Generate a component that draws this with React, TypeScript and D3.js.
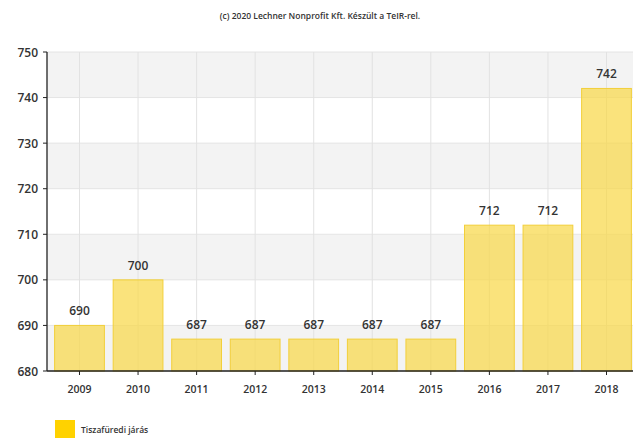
import * as d3 from 'd3'

const years = ['2009', '2010', '2011', '2012', '2013', '2014', '2015', '2016', '2017', '2018']
const values = [690, 700, 687, 687, 687, 687, 687, 712, 712, 742]
const yTicks = [680, 690, 700, 710, 720, 730, 740, 750]
const seriesName = 'Tiszafüredi járás'
const credit = '(c) 2020 Lechner Nonprofit Kft. Készült a TeIR-rel.'

const W = 633
const H = 439
const left = 47
const right = 639
const top = 52
const bottom = 371

export default function App() {
  const x = d3.scaleBand<string>().domain(years).range([left, right]).paddingInner(0.15).paddingOuter(0.13)
  const y = d3.scaleLinear().domain([680, 750]).range([bottom, top])
  const font = 'Open Sans, DejaVu Sans, sans-serif'

  const bands = d3.range(0, yTicks.length - 1)

  return (
    <svg width={W} height={H} style={{ position: 'absolute', left: 0, top: 0, background: '#fff' }}>
      <text x={320} y={19} textAnchor="middle" fontSize={8.5} fontFamily={font} fill="#333" fontWeight={600}>
        {credit}
      </text>
      {/* alternating bands */}
      {bands.map((i) => (
        <rect
          key={i}
          x={left}
          y={y(yTicks[i + 1])}
          width={right - left}
          height={y(yTicks[i]) - y(yTicks[i + 1])}
          fill={(yTicks.length - 2 - i) % 2 === 0 ? '#f3f3f3' : '#ffffff'}
        />
      ))}
      {yTicks.map((t) => (
        <line key={t} x1={left} x2={right} y1={y(t)} y2={y(t)} stroke="#e4e4e4" strokeWidth={1} />
      ))}
      {years.map((yr) => {
        const cx = (x(yr) ?? 0) + x.bandwidth() / 2
        return <line key={yr} x1={cx} x2={cx} y1={top} y2={bottom} stroke="#e2e2e2" strokeWidth={1} />
      })}
      {years.map((yr, i) => (
        <rect
          key={yr}
          x={x(yr)}
          y={y(values[i])}
          width={x.bandwidth()}
          height={bottom - y(values[i])}
          fill="#f8d84a"
          fillOpacity={0.72}
          stroke="#f2cf3a"
          strokeWidth={1}
        />
      ))}
      {years.map((yr, i) => (
        <text
          key={yr}
          x={(x(yr) ?? 0) + x.bandwidth() / 2}
          y={y(values[i]) - 10}
          textAnchor="middle"
          fontSize={12}
          fontFamily={font}
          fontWeight={600}
          fill="#333"
        >
          {values[i]}
        </text>
      ))}
      {/* axes */}
      <line x1={left} x2={left} y1={top} y2={bottom} stroke="#222" strokeWidth={1.3} />
      <line x1={left} x2={right} y1={bottom} y2={bottom} stroke="#222" strokeWidth={1.3} />
      {yTicks.map((t) => (
        <g key={t}>
          <line x1={left - 4} x2={left} y1={y(t)} y2={y(t)} stroke="#222" />
          <text x={left - 9} y={y(t) + 4.5} textAnchor="end" fontSize={12} fontFamily={font} fontWeight={600} fill="#333">
            {t}
          </text>
        </g>
      ))}
      {years.map((yr) => {
        const cx = (x(yr) ?? 0) + x.bandwidth() / 2
        return (
          <g key={yr}>
            <line x1={cx} x2={cx} y1={bottom} y2={bottom + 4} stroke="#222" />
            <text x={cx} y={bottom + 22} textAnchor="middle" fontSize={10.5} fontFamily={font} fontWeight={600} fill="#333">
              {yr}
            </text>
          </g>
        )
      })}
      {/* legend */}
      <rect x={55} y={420} width={20} height={18} fill="#ffd200" />
      <text x={81} y={433} fontSize={8.5} fontFamily={font} fill="#333" fontWeight={600}>
        {seriesName}
      </text>
    </svg>
  )
}
